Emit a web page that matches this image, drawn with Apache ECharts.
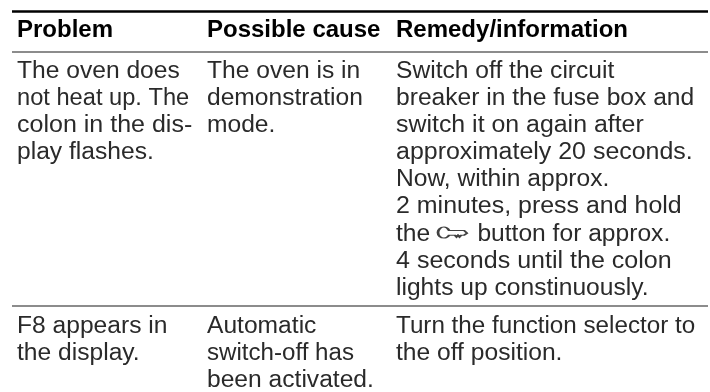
<!DOCTYPE html>
<html>
<head>
<meta charset="utf-8">
<style>html,body{margin:0;padding:0;background:#fff}#chart{width:710px;height:392px}</style>
<script src="https://cdn.jsdelivr.net/npm/echarts@6/dist/echarts.min.js"></script>
</head>
<body>
<div id="chart"></div>
<script>
const headers = ['Problem', 'Possible cause', 'Remedy/information']
const problems = [
  ['The oven does', 'not heat up. The', 'colon in the dis-', 'play flashes.'],
  ['F8 appears in', 'the display.'],
]
const causes = [
  ['The oven is in', 'demonstration', 'mode.'],
  ['Automatic', 'switch-off has', 'been activated.'],
]
const remedies = [
  ['Switch off the circuit', 'breaker in the fuse box and', 'switch it on again after', 'approximately 20 seconds.',
    'Now, within approx.', '2 minutes, press and hold', 'the {key|} button for approx.', '4 seconds until the colon', 'lights up constinuously.'],
  ['Turn the function selector to', 'the off position.'],
]

// 坐标轴直接按像素铺满画布
const columnX = [17, 207, 396]
const headerY = 30
const rowY = [71.5, 326.5]
const lineGap = 27.1
const ruleTop = 11.5
const ruleHeader = 52
const ruleRow = 306
const ruleLeft = 12
const ruleRight = 708

// 原图个别行的字距不同，单独微调宽度
const lineFit = {
  'not heat up. The': 0.961,
  'colon in the dis-': 1.017,
  'switch it on again after': 1.012,
  'approximately 20 seconds.': 1.014,
  '2 minutes, press and hold': 1.014,
  '4 seconds until the colon': 1.018,
  'Turn the function selector to': 0.984,
  'switch-off has': 0.98,
}

const bodyCells = []
;[problems, causes, remedies].forEach((col, c) => {
  col.forEach((row, r) => {
    row.forEach((text, l) => {
      bodyCells.push([columnX[c], rowY[r] + l * lineGap, text])
    })
  })
})
const headerCells = headers.map((h, c) => [columnX[c], headerY, h])
const keyPoint = [452.5, rowY[0] + 6 * lineGap - 1.5]

const keyPath = 'path://M6 0C2.5 0 0 2.2 0 5S2.5 10 6 10C8.5 10 10 8.8 11 7.5L17 7.5L18.5 9L20 7.5L21.5 9L23 7.5L26 7.5L29 5.5L26 3L11 3C10 1.4 8.5 0 6 0Z'

function textSeries(data, font, stretch) {
  return {
    type: 'custom',
    coordinateSystem: 'cartesian2d',
    silent: true,
    data: data,
    renderItem: (params, api) => {
      const p = api.coord([api.value(0), api.value(1)])
      const text = data[params.dataIndex][2]
      return {
        type: 'text',
        x: p[0],
        y: p[1],
        scaleX: stretch * (lineFit[text] || 1),
        style: Object.assign({
          text: text,
          verticalAlign: 'middle',
          align: 'left',
          rich: { key: { width: 32, height: 10 } },
        }, font),
      }
    },
  }
}

function rule(y, color, width) {
  return {
    type: 'line',
    symbol: 'none',
    silent: true,
    lineStyle: { color: color, width: width },
    data: [[ruleLeft, y], [ruleRight, y]],
  }
}

const chart = echarts.init(document.getElementById('chart'), null, { renderer: 'canvas' })
chart.setOption({
  animation: false,
  backgroundColor: '#ffffff',
  grid: { left: 0, right: 0, top: 0, bottom: 0 },
  xAxis: { type: 'value', min: 0, max: 710, show: false },
  yAxis: { type: 'value', min: 0, max: 392, inverse: true, show: false },
  series: [
    rule(ruleTop, '#000000', 2.5),
    rule(ruleHeader, '#666666', 1.5),
    rule(ruleRow, '#666666', 1.5),
    textSeries(headerCells, { fill: '#000000', font: 'bold 24px "Liberation Sans"' }, 1),
    textSeries(bodyCells, { fill: '#2a2a2a', font: '23.5px "Liberation Sans"' }, 1.047),
    {
      type: 'scatter',
      silent: true,
      symbol: keyPath,
      symbolSize: [29, 11],
      itemStyle: { color: '#ffffff', borderColor: '#111111', borderWidth: 1.7 },
      data: [keyPoint],
    },
  ],
})
</script>
</body>
</html>
